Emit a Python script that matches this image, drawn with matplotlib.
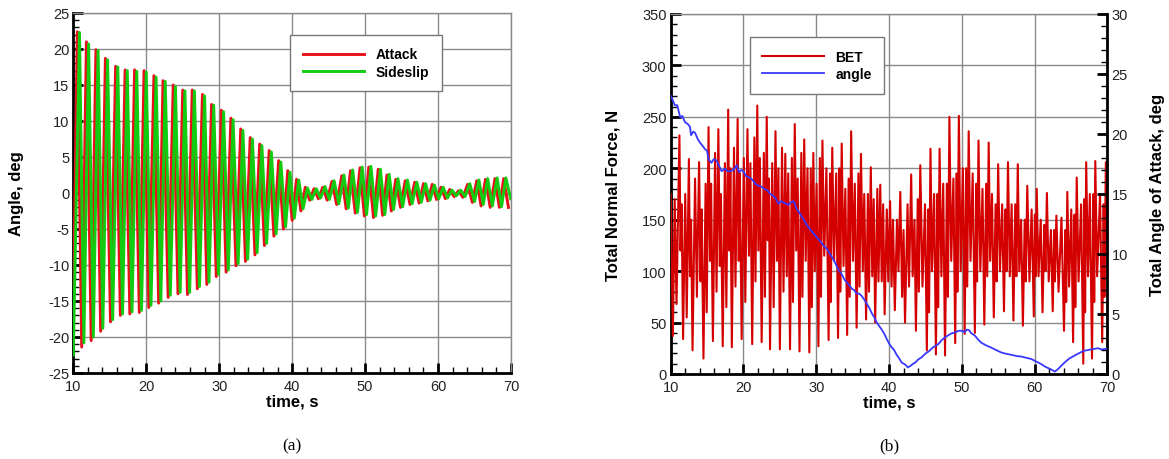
import numpy as np
import matplotlib
matplotlib.use("Agg")
import matplotlib.pyplot as plt
from matplotlib.ticker import MultipleLocator

plt.rcParams['font.family'] = ['Liberation Sans', 'DejaVu Sans']
plt.rcParams['axes.unicode_minus'] = False

# ---------------- panel (a) data: extrema ----------------
attack_start = (10.0, -16.0)
attack_peak_t = [10.55, 11.8, 13.1, 14.4, 15.8, 17.1, 18.4, 19.7, 21.05, 22.3, 23.7, 25.0, 26.3, 27.7,
                 28.95, 30.3, 31.6, 32.95, 34.25, 35.55, 36.85, 38.15, 39.4, 40.6, 41.8, 43.0, 44.2,
                 45.45, 46.8, 48.0, 49.3, 50.5, 51.8, 53.0, 54.2, 55.5, 56.8, 58.0, 59.2, 60.4, 61.6,
                 62.8, 64.05, 65.3, 66.5, 67.8, 69.0]
attack_peak = [22.4, 21.0, 19.9, 18.7, 17.6, 17.1, 17.1, 17.0, 16.3, 15.6, 15.0, 14.3, 14.3, 13.7,
               12.3, 11.5, 10.4, 8.9, 7.7, 6.8, 5.9, 4.5, 3.1, 1.9, 0.8, 0.6, 0.8, 1.6, 2.4, 3.1,
               3.5, 3.6, 3.3, 2.5, 1.9, 1.7, 1.5, 1.3, 1.2, 0.8, 0.5, 0.3, 1.2, 1.7, 1.9, 2.0, 2.0]
attack_trough_t = [11.15, 12.45, 13.75, 15.1, 16.45, 17.75, 19.05, 20.35, 21.7, 23.0, 24.35, 25.65,
                   27.0, 28.3, 29.6, 30.95, 32.3, 33.6, 34.9, 36.2, 37.5, 38.8, 40.0, 41.2, 42.4,
                   43.6, 44.8, 46.1, 47.4, 48.65, 49.9, 51.15, 52.4, 53.6, 54.85, 56.15, 57.4, 58.6,
                   59.8, 61.0, 62.2, 63.4, 64.7, 65.9, 67.15, 68.4, 69.65]
attack_trough = [-21.4, -20.5, -19.2, -17.9, -17.0, -16.8, -16.6, -15.9, -15.3, -14.5, -14.0, -14.1,
                 -13.3, -12.7, -11.6, -11.0, -10.1, -9.5, -8.6, -7.3, -6.0, -5.0, -3.8, -2.5, -1.0,
                 -0.8, -1.0, -1.6, -2.2, -2.8, -3.2, -3.4, -3.1, -2.5, -2.0, -1.6, -1.4, -1.1, -0.9,
                 -0.8, -0.5, -0.6, -1.3, -1.8, -2.0, -2.0, -2.0]

sideslip_start = (10.0, -22.5)
sideslip_peak_t = [10.85, 12.1, 13.4, 14.7, 16.1, 17.4, 18.7, 20.0, 21.35, 22.6, 24.0, 25.3, 26.6,
                   28.0, 29.25, 30.6, 31.9, 33.25, 34.55, 35.85, 37.15, 38.45, 39.7, 40.9, 42.1,
                   43.3, 44.5, 45.75, 47.1, 48.3, 49.6, 50.8, 52.1, 53.3, 54.5, 55.8, 57.1, 58.3,
                   59.5, 60.7, 61.9, 63.1, 64.35, 65.6, 66.8, 68.1, 69.3]
sideslip_peak = [22.3, 20.7, 19.8, 18.5, 17.5, 17.0, 16.9, 16.8, 16.1, 15.5, 14.8, 14.2, 14.2, 13.5,
                 12.2, 11.3, 10.2, 8.7, 7.5, 6.6, 5.7, 4.3, 2.9, 1.8, 0.7, 0.6, 0.9, 1.7, 2.5, 3.2,
                 3.6, 3.7, 3.3, 2.6, 2.0, 1.8, 1.5, 1.3, 1.1, 0.8, 0.4, 0.4, 1.3, 1.8, 2.0, 2.1, 2.1]
sideslip_trough_t = [11.45, 12.75, 14.05, 15.4, 16.75, 18.05, 19.35, 20.65, 22.0, 23.3, 24.65, 25.95,
                     27.3, 28.6, 29.9, 31.25, 32.6, 33.9, 35.2, 36.5, 37.8, 39.1, 40.3, 41.5, 42.7,
                     43.9, 45.1, 46.4, 47.7, 48.95, 50.2, 51.45, 52.7, 53.9, 55.15, 56.45, 57.7,
                     58.9, 60.1, 61.3, 62.5, 63.7, 65.0, 66.2, 67.45, 68.7, 69.95]
sideslip_trough = [-20.8, -20.0, -18.8, -17.6, -16.8, -16.5, -16.3, -15.6, -15.0, -14.2, -13.8, -13.8,
                   -13.0, -12.4, -11.3, -10.7, -9.8, -9.2, -8.3, -7.0, -5.7, -4.7, -3.5, -2.2, -0.9,
                   -0.7, -0.9, -1.5, -2.1, -2.7, -3.0, -3.2, -3.0, -2.3, -1.9, -1.5, -1.3, -1.0,
                   -0.8, -0.7, -0.4, -0.5, -1.2, -1.6, -1.8, -1.9, -0.8]

# ---------------- panel (b) data ----------------
bet_start = (10.0, 175.0)
bet_end = (70.0, 130.0)
bet_trough_t = [10.3, 11.7, 13.0, 14.5, 15.8, 17.15, 18.4, 19.75, 21.2, 22.5, 23.65, 25.0, 26.4, 27.7,
                29.05, 30.3, 31.7, 33.0, 34.25, 35.55, 36.85, 38.1, 39.4, 40.8, 42.2, 43.7, 45.2,
                46.45, 47.7, 49.1, 50.4, 51.8, 53.1, 54.4, 55.8, 57.1, 58.4, 59.9, 61.1, 62.5, 64.05,
                65.3, 66.7, 67.9, 69.3]
bet_trough = [37, 34, 23, 15, 32, 27, 26, 34, 29, 31, 24, 24, 24, 22, 21, 27, 33, 35, 38, 45, 53, 50,
              58, 62, 50, 42, 23, 19, 18, 30, 39, 40, 48, 55, 61, 52, 47, 56, 60, 61, 42, 31, 10, 15,
              31]
bet_rise_t = [10.55, 12.0, 13.35, 14.8, 16.1, 17.45, 18.7, 20.05, 21.5, 22.8, 23.95, 25.3, 26.65,
              27.95, 29.25, 30.5, 31.9, 33.2, 34.45, 35.8, 37.1, 38.4, 39.7, 41.1, 42.55, 43.95,
              45.4, 46.65, 47.95, 49.3, 50.6, 52.0, 53.35, 54.65, 56.0, 57.35, 58.65, 60.05, 61.35,
              62.7, 64.25, 65.5, 66.85, 68.1, 69.5]
bet_rise = [170, 175, 190, 185, 215, 205, 220, 210, 230, 215, 205, 220, 210, 215, 200, 210, 195, 200,
            190, 195, 175, 180, 160, 150, 165, 170, 160, 175, 185, 195, 200, 185, 185, 165, 160, 165,
            150, 155, 145, 140, 140, 155, 170, 175, 165]
bet_rise_dip_t = [10.8, 12.2, 13.6, 14.95, 16.3, 17.65, 18.9, 20.25, 21.65, 22.95, 24.15, 25.5, 26.8,
                  28.1, 29.4, 30.65, 32.0, 33.3, 34.6, 35.95, 37.25, 38.55, 39.9, 41.3, 42.75, 44.1,
                  45.5, 46.75, 48.1, 49.4, 50.75, 52.1, 53.5, 54.8, 56.15, 57.5, 58.8, 60.15, 61.5,
                  62.8, 64.35, 65.6, 66.95, 68.2, 69.6]
bet_rise_dip = [68, 55, 75, 60, 80, 65, 85, 70, 90, 75, 65, 80, 70, 75, 65, 75, 70, 80, 75, 85, 80, 90,
                90, 100, 85, 80, 60, 65, 75, 80, 85, 90, 95, 90, 100, 95, 90, 95, 100, 90, 70, 65, 60,
                70, 75]
bet_peak_t = [11.2, 12.5, 13.9, 15.2, 16.55, 17.9, 19.2, 20.55, 21.9, 23.2, 24.4, 25.75, 27.05, 28.35,
              29.6, 30.85, 32.2, 33.5, 34.8, 36.15, 37.5, 38.8, 40.15, 41.55, 43.05, 44.3, 45.7,
              46.95, 48.3, 49.6, 50.95, 52.3, 53.7, 55.0, 56.35, 57.7, 59.0, 60.3, 61.7, 63.0, 64.5,
              65.8, 67.1, 68.35, 69.8]
bet_peak = [232, 209, 206, 240, 238, 257, 248, 238, 261, 250, 236, 214, 243, 228, 215, 227, 220, 224,
            236, 214, 201, 184, 168, 177, 194, 203, 219, 219, 250, 251, 236, 227, 225, 204, 206, 204,
            183, 180, 176, 154, 177, 191, 206, 207, 206]
bet_dip_t = [11.35, 12.65, 14.1, 15.4, 16.75, 18.05, 19.35, 20.75, 22.05, 23.35, 24.6, 25.95, 27.25,
             28.55, 29.8, 31.1, 32.45, 33.75, 35.05, 36.4, 37.7, 39.0, 40.35, 41.8, 43.25, 44.6,
             45.9, 47.2, 48.55, 49.85, 51.2, 52.55, 53.9, 55.25, 56.6, 57.9, 59.3, 60.55, 61.95,
             63.3, 64.75, 66.05, 67.35, 68.6]
bet_dip = [120, 95, 90, 110, 105, 120, 110, 115, 120, 130, 110, 95, 120, 110, 100, 115, 110, 105, 110,
           100, 95, 90, 85, 75, 95, 85, 100, 95, 110, 100, 110, 100, 110, 100, 95, 100, 90, 95, 90,
           80, 85, 90, 95, 95]
bet_spike_t = [11.5, 12.8, 14.25, 15.55, 16.9, 18.2, 19.5, 20.95, 22.25, 23.5, 24.8, 26.15, 27.45,
               28.8, 30.05, 31.4, 32.75, 34.0, 35.3, 36.6, 37.9, 39.2, 40.55, 42.0, 43.5, 44.95,
               46.2, 47.45, 48.85, 50.15, 51.5, 52.85, 54.15, 55.55, 56.85, 58.15, 59.6, 60.85,
               62.25, 63.7, 65.05, 66.4, 67.6, 69.0]
bet_spike = [165, 150, 160, 185, 175, 200, 195, 205, 210, 190, 200, 195, 190, 200, 185, 200, 195, 180,
             185, 175, 170, 165, 150, 140, 150, 165, 175, 185, 190, 200, 195, 180, 175, 165, 165, 150,
             160, 150, 140, 152, 160, 165, 175, 175]

angle_t = [10.0, 10.3, 10.55, 10.9, 11.3, 11.6, 11.95, 12.4, 12.65, 12.8, 13.1, 13.35, 13.7, 14.0,
           14.4, 14.7, 15.0, 15.2, 15.6, 15.9, 16.3, 16.6, 17.0, 17.45, 17.8, 18.15, 18.6, 19.07,
           19.4, 19.7, 20.0, 20.35, 20.7, 21.0, 21.35, 21.7, 22.05, 22.5, 22.95, 23.3, 23.65, 24.0,
           24.35, 24.8, 25.15, 25.5, 25.8, 26.15, 26.5, 26.85, 27.05, 27.3, 27.65, 28.0, 28.35, 28.7,
           29.1, 29.5, 30.05, 30.5, 31.0, 31.5, 32.1, 32.5, 33.0, 33.5, 33.95, 34.4, 34.9, 35.2,
           35.55, 35.9, 36.25, 36.6, 36.9, 37.3, 37.6, 38.0, 38.3, 38.65, 39.0, 39.4, 39.7, 40.05,
           40.4, 40.7, 41.05, 41.4, 41.75, 42.2, 42.6, 43.0, 43.3, 43.6, 44.0, 44.5, 45.0, 45.5,
           46.0, 46.4, 46.8, 47.2, 47.7, 48.2, 48.65, 49.1, 49.5, 50.0, 50.4, 50.7, 51.0, 51.3,
           51.8, 52.2, 52.7, 53.3, 54.05, 54.7, 55.4, 56.0, 56.8, 57.5, 58.2, 58.9, 59.55, 60.2,
           60.9, 61.5, 62.2, 62.8, 63.2, 63.7, 64.2, 64.8, 65.4, 66.0, 66.5, 66.9, 67.4, 67.8, 68.3,
           68.7, 69.2, 69.85, 70.0]
angle_deg = [23.2, 22.8, 22.4, 22.4, 21.4, 21.5, 21.0, 20.8, 20.6, 19.9, 20.2, 20.1, 19.6, 19.3, 19.0,
             18.75, 18.6, 17.9, 17.6, 17.9, 17.8, 17.4, 16.9, 17.1, 16.9, 16.9, 17.0, 17.4, 16.8,
             17.0, 16.9, 16.5, 16.4, 16.3, 16.1, 15.8, 15.7, 15.6, 15.4, 15.3, 15.0, 14.9, 14.7,
             14.2, 14.4, 14.3, 14.2, 14.1, 14.3, 14.4, 14.2, 13.75, 13.5, 13.1, 12.8, 12.4, 12.1,
             11.8, 11.4, 11.1, 10.7, 10.4, 9.8, 9.4, 8.75, 8.3, 7.8, 7.5, 7.1, 7.0, 6.7, 6.7, 6.5,
             6.2, 5.9, 5.5, 5.1, 4.7, 4.3, 4.0, 3.7, 3.3, 2.9, 2.5, 2.2, 2.0, 1.6, 1.3, 0.95, 0.8,
             0.55, 0.7, 0.85, 0.95, 1.2, 1.4, 1.7, 1.9, 2.2, 2.35, 2.5, 2.8, 3.05, 3.25, 3.4, 3.45,
             3.6, 3.6, 3.5, 3.7, 3.65, 3.4, 3.2, 2.9, 2.6, 2.4, 2.2, 2.0, 1.8, 1.7, 1.6, 1.5, 1.45,
             1.35, 1.25, 1.05, 0.83, 0.6, 0.4, 0.2, 0.4, 0.7, 1.0, 1.3, 1.5, 1.7, 1.85, 1.95, 2.0,
             2.05, 2.1, 2.15, 2.05, 2.1, 2.1]


def merge(start, *pairs, end=None):
    t = [start[0]]
    v = [start[1]]
    for tt, vv in pairs:
        t += list(tt)
        v += list(vv)
    if end is not None:
        t.append(end[0]); v.append(end[1])
    order = np.argsort(t, kind="stable")
    return np.asarray(t)[order], np.asarray(v, dtype=float)[order]


att_t, att_v = merge(attack_start, (attack_peak_t, attack_peak), (attack_trough_t, attack_trough))
sid_t, sid_v = merge(sideslip_start, (sideslip_peak_t, sideslip_peak), (sideslip_trough_t, sideslip_trough))
bet_t, bet_v = merge(bet_start, (bet_trough_t, bet_trough), (bet_rise_t, bet_rise),
                     (bet_rise_dip_t, bet_rise_dip), (bet_peak_t, bet_peak),
                     (bet_dip_t, bet_dip), (bet_spike_t, bet_spike), end=bet_end)

# ---------------- figure ----------------
fig = plt.figure(figsize=(11.69, 4.60), dpi=100)
W, H = 1169, 460


def axes_px(x0, x1, y0, y1):
    return fig.add_axes([x0 / W, 1 - y1 / H, (x1 - x0) / W, (y1 - y0) / H])


GRID = '#8a8a8a'
TICK_FS = 10.5
LAB_FS = 12


def style(ax):
    ax.grid(True, which='major', color=GRID, lw=1.0, zorder=0)
    ax.set_axisbelow(True)
    for s in ('top', 'right'):
        ax.spines[s].set_color(GRID)
        ax.spines[s].set_linewidth(1.0)
    for s in ('left', 'bottom'):
        ax.spines[s].set_color('black')
        ax.spines[s].set_linewidth(2.0)
    ax.tick_params(which='major', direction='in', length=7, width=2, labelsize=TICK_FS,
                   pad=4, colors='black', labelcolor='#222222', top=False, right=False)
    ax.tick_params(which='minor', direction='in', length=4, width=1, top=False, right=False)
    ax.tick_params(axis='y', pad=3)


# ---- panel (a) ----
axa = axes_px(73.3, 511, 14, 374)
axa.plot(att_t, att_v, color='#e8101a', lw=2.1, label='Attack', zorder=3)
axa.plot(sid_t, sid_v, color='#12cc12', lw=2.1, label='Sideslip', zorder=3)
axa.set_xlim(10, 70)
axa.set_ylim(-25, 25)
axa.xaxis.set_major_locator(MultipleLocator(10))
axa.xaxis.set_minor_locator(MultipleLocator(2))
axa.yaxis.set_major_locator(MultipleLocator(5))
axa.yaxis.set_minor_locator(MultipleLocator(1))
style(axa)
axa.set_xlabel('time, s', fontsize=LAB_FS, fontweight='bold')
axa.xaxis.set_label_coords(0.5, -0.058)
axa.set_ylabel('Angle, deg', fontsize=LAB_FS, fontweight='bold')
axa.yaxis.set_label_coords(-0.112, 0.5)
leg = axa.legend(loc='upper left', bbox_to_anchor=(0.4954, 0.939), borderaxespad=0,
                 frameon=True, fancybox=False, edgecolor='#777777', framealpha=1,
                 prop={'weight': 'bold', 'size': 10}, handlelength=4.4, handletextpad=0.85,
                 borderpad=0.9, labelspacing=0.25)
leg.get_frame().set_linewidth(1.0)

# ---- panel (b) ----
axb = axes_px(670.7, 1107.3, 15, 375)
lb, = axb.plot(bet_t, bet_v, color='#d40000', lw=1.5, label='BET', zorder=3)
axb.set_xlim(10, 70)
axb.set_ylim(0, 350)
axb.xaxis.set_major_locator(MultipleLocator(10))
axb.xaxis.set_minor_locator(MultipleLocator(2))
axb.yaxis.set_major_locator(MultipleLocator(50))
axb.yaxis.set_minor_locator(MultipleLocator(10))
style(axb)
axb.set_xlabel('time, s', fontsize=LAB_FS, fontweight='bold')
axb.xaxis.set_label_coords(0.5, -0.058)
axb.set_ylabel('Total Normal Force, N', fontsize=LAB_FS, fontweight='bold')
axb.yaxis.set_label_coords(-0.116, 0.5)

axc = axb.twinx()
la, = axc.plot(angle_t, angle_deg, color='#3838ff', lw=1.3, label='angle', zorder=4)
axc.set_ylim(0, 30)
axc.yaxis.set_major_locator(MultipleLocator(5))
axc.yaxis.set_minor_locator(MultipleLocator(1))
for s in ('top', 'left', 'bottom'):
    axc.spines[s].set_visible(False)
axc.spines['right'].set_color('black')
axc.spines['right'].set_linewidth(2.0)
axc.tick_params(which='major', direction='in', length=7, width=2, labelsize=TICK_FS, pad=3,
                labelcolor='#222222')
axc.tick_params(which='minor', direction='in', length=4, width=1)
axc.set_ylabel('Total Angle of Attack, deg', fontsize=LAB_FS, fontweight='bold')
axc.yaxis.set_label_coords(1.098, 0.5)
leg2 = axc.legend([lb, la], ['BET', 'angle'], loc='upper left', bbox_to_anchor=(0.1816, 0.936),
                  borderaxespad=0, frameon=True, fancybox=False, edgecolor='#777777',
                  framealpha=1, prop={'weight': 'bold', 'size': 10}, handlelength=4.4,
                  handletextpad=0.85, borderpad=0.9, labelspacing=0.25)
leg2.get_frame().set_linewidth(1.0)

fig.text(292 / W, 1 - 446 / H, '(a)', ha='center', va='center', fontsize=12.5,
         family=['Liberation Serif', 'DejaVu Serif'])
fig.text(889 / W, 1 - 446 / H, '(b)', ha='center', va='center', fontsize=12.5,
         family=['Liberation Serif', 'DejaVu Serif'])

fig.savefig('out.png', dpi=100)
